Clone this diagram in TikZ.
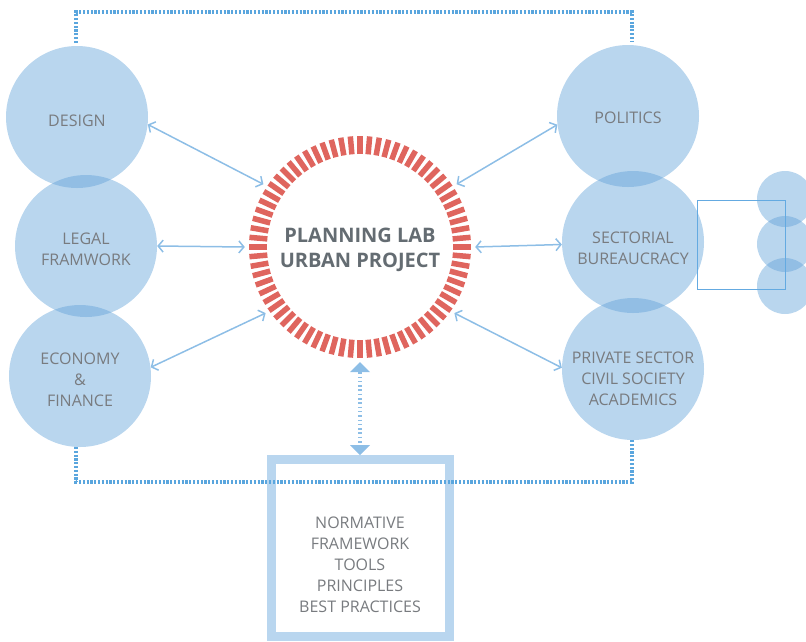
\documentclass[tikz,border=0pt]{standalone}
\usepackage{fontspec}
\setmainfont{Open Sans}
\usetikzlibrary{arrows.meta}
\definecolor{cfill}{RGB}{96,161,216}
\definecolor{ctext}{RGB}{120,123,127}
\definecolor{ringred}{RGB}{223,101,94}
\definecolor{arrowblue}{RGB}{141,190,230}
\definecolor{frameblue}{RGB}{90,166,222}
\definecolor{boxblue}{RGB}{185,214,239}
\definecolor{titlegray}{RGB}{100,108,114}
\definecolor{rectblue}{RGB}{100,170,225}
\begin{document}
\begin{tikzpicture}[x=1pt,y=-1pt,
  topic/.style={circle, minimum size=142pt, inner sep=0pt, fill=cfill, fill opacity=0.44},
  tlabel/.style={text=ctext, font=\fontsize{16}{21}\selectfont, align=center, inner sep=0pt, fill opacity=1, text opacity=1},
  minor/.style={circle, minimum size=56pt, inner sep=0pt, fill=cfill, fill opacity=0.44},
  link/.style={draw=arrowblue, line width=1.5pt, {Straight Barb[length=5pt,width=12pt]}-{Straight Barb[length=5pt,width=12pt]}},
  vlink/.style={draw=arrowblue, line width=4.5pt, dash pattern=on 1.5pt off 2.8pt, {Triangle[length=10pt,width=20pt,line width=0pt]}-{Triangle[length=10pt,width=20pt,line width=0pt]}},
  frameline/.style={draw=frameblue, line width=4pt, dash pattern=on 2.2pt off 1.6pt},
  hub/.style={circle, minimum size=230pt, inner sep=0pt},
  hublabel/.style={text=titlegray, font=\fontsize{20}{25.5}\selectfont\bfseries, align=center, inner sep=0pt},
  toolbox/.style={rectangle, draw=boxblue, line width=9pt, minimum width=178pt, minimum height=177pt, inner sep=0pt},
  boxtext/.style={text=ctext, font=\fontsize{16}{21}\selectfont, align=center},
  tick/.style={draw=ringred, line width=5.5pt}
]
\useasboundingbox (0,0) rectangle (806,641);

% frame
\coordinate (f1) at (76,43);
\coordinate (f2) at (76,12);
\coordinate (f3) at (632,12);
\coordinate (f4) at (632,42);
\coordinate (f5) at (76,447);
\coordinate (f6) at (76,482);
\coordinate (f7) at (632,482);
\coordinate (f8) at (632,440);

% tool box
\node[toolbox] (box) at (360,548) {};
\node[boxtext] (boxlabel) at (360,565) {NORMATIVE\\FRAMEWORK\\TOOLS\\PRINCIPLES\\BEST PRACTICES};

\draw[frameline] (f1) -- (f2) -- (f3) -- (f4);
\draw[frameline] (f5) -- (f6) -- (f7) -- (f8);

% circles
\node[topic, label={[tlabel, yshift=-4pt]center:DESIGN}] (design) at (77,117) {};
\node[topic, label={[tlabel, yshift=-3.5pt]center:LEGAL\\FRAMWORK}] (legal) at (86,246) {};
\node[topic, label={[tlabel, yshift=-3.5pt]center:ECONOMY\\\&\\FINANCE}] (economy) at (80,376) {};
\node[topic, label={[tlabel, yshift=-2pt]center:POLITICS}] (politics) at (628,116) {};
\node[topic, label={[tlabel, yshift=-6.5pt]center:SECTORIAL\\BUREAUCRACY}] (sector) at (633,242) {};
\node[topic, label={[tlabel, yshift=-9.5pt]center:PRIVATE SECTOR\\CIVIL SOCIETY\\ACADEMICS}] (private) at (633,369) {};

\node[minor] (m1) at (785,199) {};
\node[minor] (m2) at (785,244) {};
\node[minor] (m3) at (785,286) {};

% hub
\node[hub, label={[hublabel, yshift=-3pt]center:PLANNING LAB\\URBAN PROJECT}] (ring) at (360,247) {};
\foreach \a in {0,5,...,355}
  \draw[tick] (ring.center) ++(\a:93) -- ++(\a:18);

% links
\draw[link] (design.-6) -- (ring.147);
\draw[link] (legal.0) -- (ring.180);
\draw[link] (economy.7) -- (ring.215);
\draw[link] (politics.187) -- (ring.33);
\draw[link] (sector.182) -- (ring.0);
\draw[link] (private.179) -- (ring.-35);
\draw[vlink] (ring.south) -- (box.north);

% rectangle
\node[draw=rectblue, line width=1pt, minimum width=88pt, minimum height=89pt, inner sep=0pt] (frame) at (741,244.5) {};
\end{tikzpicture}
\end{document}
